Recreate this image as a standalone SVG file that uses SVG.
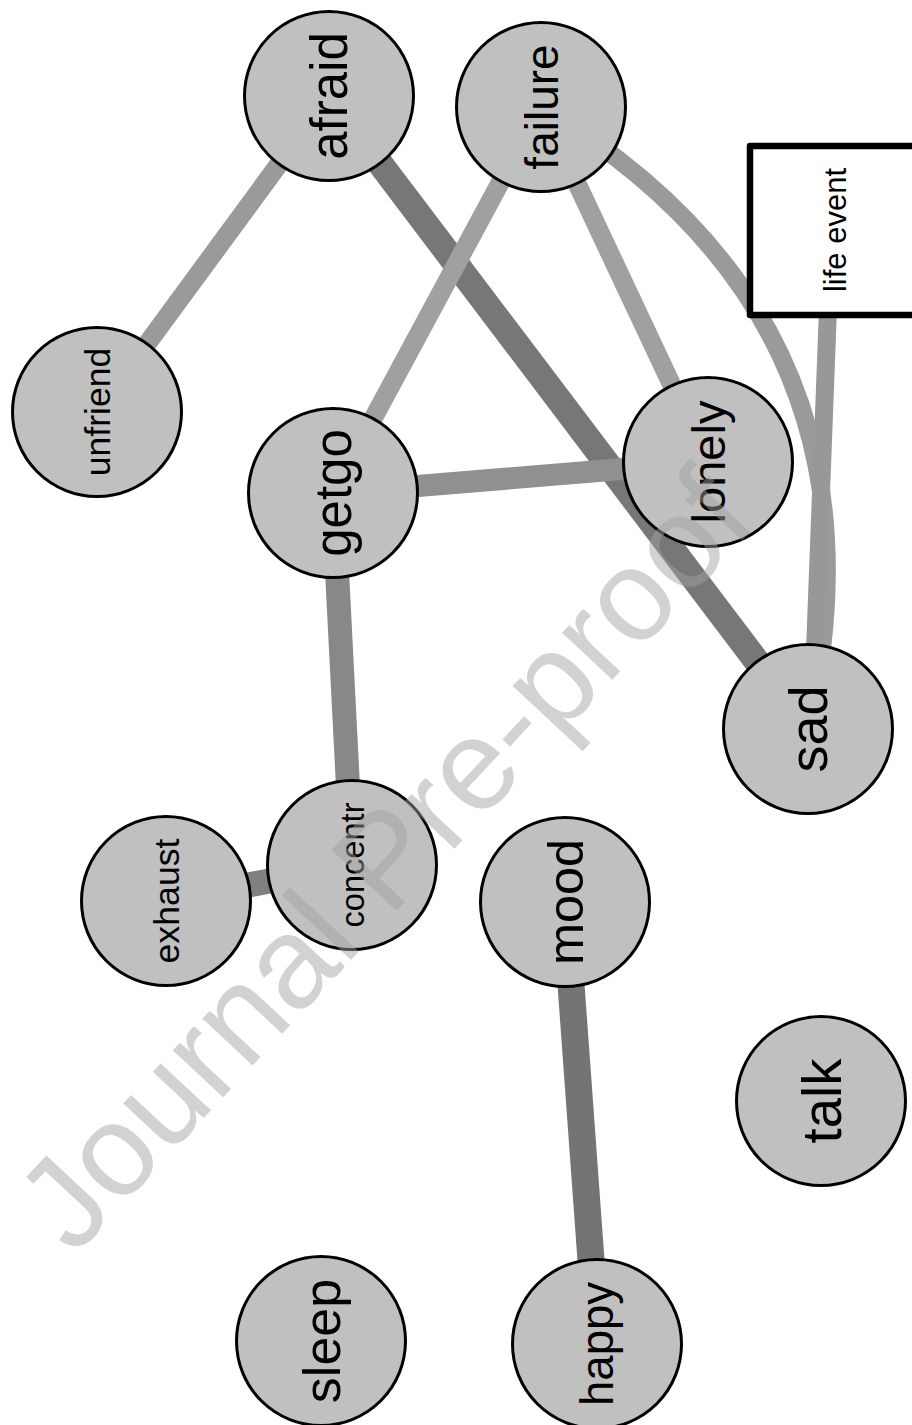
<svg xmlns="http://www.w3.org/2000/svg" width="912" height="1425" viewBox="0 0 912 1425">
<style>
.n{fill:#c0c0c0;stroke:#000;stroke-width:3}
.t{font-family:"Liberation Sans",Arial,sans-serif;fill:#000;text-anchor:middle}
.e{fill:none;stroke-linecap:butt}
.wm{font-family:"Liberation Sans",Arial,sans-serif;font-size:130px;fill:#a2a2a2;opacity:0.48}
</style>
<rect width="912" height="1425" fill="#fff"/>
<g id="edges">
<line class="e" x1="97" y1="412" x2="329" y2="96" stroke="#9a9a9a" stroke-width="19"/>
<line class="e" x1="329" y1="96" x2="808" y2="729" stroke="#777777" stroke-width="26"/>
<line class="e" x1="541" y1="107" x2="333" y2="493" stroke="#a0a0a0" stroke-width="19"/>
<line class="e" x1="541" y1="107" x2="708" y2="462" stroke="#a0a0a0" stroke-width="19"/>
<path class="e" d="M541,107 Q900,322 808,729" stroke="#9a9a9a" stroke-width="18"/>
<line class="e" x1="831" y1="230" x2="812" y2="729" stroke="#989898" stroke-width="18"/>
<line class="e" x1="333" y1="493" x2="708" y2="462" stroke="#909090" stroke-width="22"/>
<line class="e" x1="333" y1="493" x2="352" y2="865" stroke="#888888" stroke-width="24"/>
<line class="e" x1="166" y1="901" x2="352" y2="865" stroke="#808080" stroke-width="25"/>
<line class="e" x1="565" y1="902" x2="597" y2="1343" stroke="#747474" stroke-width="27"/>
</g>
<g id="node-life-event">
<rect x="750" y="146" width="170" height="169" fill="#fff" stroke="#000" stroke-width="6.5" stroke-linejoin="round"/>
<text class="t" transform="translate(835,230) rotate(-90)" font-size="31" dy="0.36em">life event</text>
</g>
<g id="node-afraid"><circle class="n" cx="329" cy="96" r="84.5"/><text class="t" transform="translate(329,96) rotate(-90)" font-size="51" dy="0.36em">afraid</text></g>
<g id="node-failure"><circle class="n" cx="541" cy="107" r="84.5"/><text class="t" transform="translate(541,107) rotate(-90)" font-size="46" dy="0.36em">failure</text></g>
<g id="node-unfriend"><circle class="n" cx="97" cy="412" r="84.5"/><text class="t" transform="translate(97,412) rotate(-90)" font-size="35.5" dy="0.36em">unfriend</text></g>
<g id="node-getgo"><circle class="n" cx="333" cy="493" r="84.5"/><text class="t" transform="translate(333,493) rotate(-90)" font-size="51" dy="0.36em">getgo</text></g>
<g id="node-lonely"><circle class="n" cx="708" cy="462" r="84.5"/><text class="t" transform="translate(708,462) rotate(-90)" font-size="47" dy="0.36em">lonely</text></g>
<g id="node-sad"><circle class="n" cx="808" cy="729" r="84.5"/><text class="t" transform="translate(808,729) rotate(-90)" font-size="54" dy="0.36em">sad</text></g>
<g id="node-concentr"><circle class="n" cx="352" cy="865" r="84.5"/><text class="t" transform="translate(352,865) rotate(-90)" font-size="32.6" dy="0.36em">concentr</text></g>
<g id="node-exhaust"><circle class="n" cx="166" cy="901" r="84.5"/><text class="t" transform="translate(166,901) rotate(-90)" font-size="35.7" dy="0.36em">exhaust</text></g>
<g id="node-mood"><circle class="n" cx="565" cy="902" r="84.5"/><text class="t" transform="translate(565,902) rotate(-90)" font-size="50.4" dy="0.36em">mood</text></g>
<g id="node-talk"><circle class="n" cx="821" cy="1101" r="84.5"/><text class="t" transform="translate(821,1101) rotate(-90)" font-size="54.6" dy="0.36em">talk</text></g>
<g id="node-sleep"><circle class="n" cx="321" cy="1341" r="84.5"/><text class="t" transform="translate(321,1341) rotate(-90)" font-size="52" dy="0.36em">sleep</text></g>
<g id="node-happy"><circle class="n" cx="597" cy="1344" r="84.5"/><text class="t" transform="translate(597,1344) rotate(-90)" font-size="45.5" dy="0.36em">happy</text></g>
<text class="wm" transform="translate(74,1257) rotate(-47)">Journal Pre-proof</text>
</svg>
